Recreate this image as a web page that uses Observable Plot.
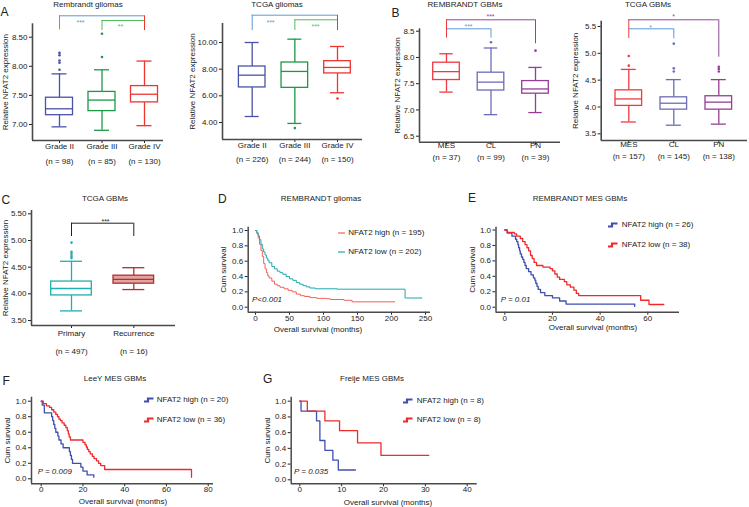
<!DOCTYPE html>
<html><head><meta charset="utf-8">
<script src="https://cdn.jsdelivr.net/npm/d3@7"></script>
<script src="https://cdn.jsdelivr.net/npm/@observablehq/plot@0.6"></script>
<style>
body{margin:0;background:#fff;}
#fig{position:relative;width:749px;height:507px;overflow:hidden;font-family:"Liberation Sans",Arial,sans-serif;color:#222;background:#fff;}
.lbl{position:absolute;white-space:nowrap;line-height:1;}
.pl{position:absolute;}
</style></head><body><div id="fig"></div>
<script>
// ================= DATA =================
// box summaries are [lower whisker, Q1, median, Q3, upper whisker]
// A – Rembrandt gliomas
const remGliomaCats = ["Grade II", "Grade III", "Grade IV"];
const remGliomaN = [98, 85, 130];
const remGliomaBox = [[6.96,7.16,7.27,7.46,7.87],[6.90,7.23,7.42,7.56,7.94],[6.98,7.38,7.52,7.66,8.09]];
const remGliomaOut = [[7.94,8.06,8.10,8.19,8.23],[8.16,8.56],[]];
const remGliomaSig = [["Grade II","Grade IV","***"],["Grade III","Grade IV","**"]];
const remGliomaTicks = [7.0, 7.5, 8.0, 8.5];

// A – TCGA gliomas
const tcgaGliomaCats = ["Grade II", "Grade III", "Grade IV"];
const tcgaGliomaN = [226, 244, 150];
const tcgaGliomaBox = [[4.45,6.63,7.55,8.20,10.00],[3.93,6.60,7.83,8.50,10.25],[6.23,7.68,8.13,8.60,9.70]];
const tcgaGliomaOut = [[],[3.58],[5.80]];
const tcgaGliomaSig = [["Grade II","Grade IV","***"],["Grade III","Grade IV","***"]];
const tcgaGliomaTicks = [4, 6, 8, 10];

// B – REMBRANDT GBMs
const remGbmCats = ["MES", "CL", "PN"];
const remGbmN = [37, 99, 39];
const remGbmBox = [[7.34,7.57,7.73,7.90,8.07],[6.91,7.37,7.53,7.71,8.18],[6.95,7.31,7.40,7.55,7.81]];
const remGbmOut = [[],[8.29],[8.13]];
const remGbmSig = [["MES","PN","***"],["MES","CL","***"]];
const remGbmTicks = [6.5, 7.0, 7.5, 8.0, 8.5];

// B – TCGA GBMs
const tcgaGbmCats = ["MES", "CL", "PN"];
const tcgaGbmN = [157, 145, 138];
const tcgaGbmBox = [[3.72,4.02,4.15,4.31,4.70],[3.66,3.95,4.07,4.18,4.51],[3.68,3.95,4.09,4.20,4.51]];
const tcgaGbmOut = [[4.77,4.95],[4.66,4.72,5.18],[4.66,4.71,4.75]];
const tcgaGbmSig = [["MES","PN","*"],["MES","CL","*"]];
const tcgaGbmTicks = [3.5, 4.0, 4.5, 5.0, 5.5];

// C – TCGA GBMs primary vs recurrence
const recCats = ["Primary", "Recurrence"];
const recN = [497, 16];
const recBox = [[3.68,3.97,4.10,4.23,4.61],[4.08,4.19,4.27,4.34,4.49]];
const recOut = [[4.67,4.71,4.75,4.79,4.96],[]];
const recSig = [["Primary","Recurrence","***"]];
const recTicks = [3.5, 4.0, 4.5, 5.0, 5.5];

// Kaplan–Meier curves: [month, cumulative survival]
const survTicks = [0, 0.2, 0.4, 0.6, 0.8, 1.0];
// D – REMBRANDT gliomas
const remGliomaKmTicks = [0, 50, 100, 150, 200, 250];
const remGliomaGroups = ["NFAT2 high (n = 195)", "NFAT2 low (n = 202)"];
const remGliomaHigh = [[0,1],[2,0.96],[4,0.9],[6,0.82],[8,0.74],[10,0.66],[12,0.57],[14,0.5],[16,0.45],[18,0.41],[20,0.38],[24,0.34],[28,0.3],[32,0.28],[36,0.26],[42,0.24],[48,0.22],[54,0.2],[60,0.17],[66,0.15],[72,0.14],[80,0.125],[90,0.115],[105,0.11],[110,0.1],[130,0.09],[142,0.07],[205,0.07]];
const remGliomaLow = [[0,1],[2,0.97],[4,0.93],[6,0.88],[8,0.82],[10,0.76],[12,0.72],[14,0.68],[16,0.64],[18,0.61],[20,0.58],[24,0.53],[28,0.5],[32,0.47],[36,0.45],[40,0.43],[45,0.4],[50,0.37],[55,0.35],[60,0.32],[65,0.3],[70,0.28],[75,0.265],[80,0.25],[88,0.24],[120,0.235],[220,0.12],[245,0.12]];
const remGliomaP = "P<0.001";
// E – REMBRANDT MES GBMs
const remMesKmTicks = [0, 20, 40, 60];
const remMesGroups = ["NFAT2 high (n = 26)", "NFAT2 low (n = 38)"];
const remMesHigh = [[0,1],[1,0.96],[3,0.92],[4.5,0.88],[5,0.85],[5.5,0.81],[5.8,0.77],[6.2,0.73],[6.5,0.69],[7,0.65],[7.5,0.62],[8,0.58],[8.5,0.54],[9,0.5],[10,0.46],[11,0.42],[12,0.38],[12.6,0.35],[13,0.31],[13.5,0.27],[14,0.23],[15,0.19],[16.8,0.15],[20,0.12],[23,0.08],[25.7,0.04],[54.5,0.01]];
const remMesLow = [[0,1],[1,0.97],[4,0.95],[5,0.92],[6.5,0.89],[7.5,0.85],[8.5,0.81],[9.3,0.77],[10,0.73],[10.8,0.67],[11.5,0.63],[12.3,0.58],[13.3,0.54],[16,0.52],[19,0.5],[20,0.47],[21,0.43],[22,0.39],[23,0.36],[25,0.33],[26,0.29],[27.5,0.26],[29,0.22],[30,0.18],[31,0.15],[57,0.09],[60.5,0.035],[66.7,0.035]];
const remMesP = "P = 0.01";
// F – LeeY MES GBMs
const leeKmTicks = [0, 20, 40, 60, 80];
const leeGroups = ["NFAT2 high (n = 20)", "NFAT2 low (n = 36)"];
const leeHigh = [[0,1],[0.5,0.95],[1.5,0.85],[5,0.8],[5.5,0.75],[6,0.7],[6.5,0.65],[7,0.6],[8,0.55],[8.5,0.5],[9.5,0.45],[10.5,0.4],[13.5,0.35],[14,0.3],[14.5,0.25],[15,0.2],[19,0.15],[20,0.1],[22,0.05],[25.2,0.02]];
const leeLow = [[0,1],[1,0.97],[2.5,0.94],[4,0.92],[5,0.89],[6,0.86],[7,0.83],[7.8,0.8],[8.5,0.77],[9.2,0.75],[10,0.72],[11,0.69],[11.8,0.66],[12.5,0.62],[13,0.58],[13.4,0.54],[14,0.5],[20,0.47],[21,0.44],[21.6,0.41],[22.1,0.38],[22.8,0.35],[23.5,0.32],[24.5,0.29],[25.3,0.26],[26.5,0.23],[27.5,0.2],[28.5,0.17],[30.4,0.12],[72,0.02]];
const leeP = "P = 0.009";
// G – Freije MES GBMs
const freijeKmTicks = [0, 10, 20, 30, 40];
const freijeGroups = ["NFAT2 high (n = 8)", "NFAT2 low (n = 8)"];
const freijeHigh = [[0,1],[0.3,0.875],[4,0.75],[4.8,0.5],[6,0.375],[7.9,0.25],[9.2,0.125],[13.3,0.125]];
const freijeLow = [[0,1],[1.8,0.875],[6,0.75],[9.5,0.625],[13.8,0.47],[19.4,0.31],[30.8,0.31]];
const freijeP = "P = 0.035";

// ================= DRAWING =================
const fig = document.getElementById("fig");
const FONT = "Liberation Sans, Arial, sans-serif";
const AXIS = "#4a4a4a";
function label(txt, x, y, o = {}) {
  const d = document.createElement("div");
  d.className = "lbl";
  d.textContent = txt;
  d.style.left = x + "px"; d.style.top = y + "px";
  d.style.fontSize = (o.size || 8) + "px";
  if (o.italic) d.style.fontStyle = "italic";
  d.style.transform = `translate(${o.anchor === "start" ? "0" : "-50%"}, -50%)`;
  fig.appendChild(d);
}
function place(svg, L, T) {
  const w = document.createElement("div");
  w.className = "pl"; w.style.left = L + "px"; w.style.top = T + "px";
  w.appendChild(svg); fig.appendChild(w);
}
function lin(v1, p1, v2, p2) { return p => v1 + (p - p1) * (v2 - v1) / (p2 - p1); }
const style = {background: "transparent", overflow: "visible", fontFamily: FONT, fontSize: "8px", color: "#222", maxWidth: "none"};

function boxPanel(c) {
  const [L, T, W, H] = c.svg, [fl, fr, ft, fb] = c.frame;
  const unit = (c.pos[c.pos.length - 1] - c.pos[0]) / (c.pos.length - 1);
  const pxToX = p => (p - c.pos[0]) / unit;
  const pxToY = lin(...c.yMap);
  const xd = [pxToX(fl), pxToX(fr)], yd = [pxToY(fb), pxToY(ft)];
  const hw = c.boxPx / unit, cw = c.capPx / unit, sw = 1.3;
  const stats = c.cats.map((k, i) => ({i, lo: c.box[i][0], q1: c.box[i][1], med: c.box[i][2], q3: c.box[i][3], hi: c.box[i][4],
    color: c.colors[i], fill: (c.fills && c.fills[i]) || "white", lab: k, nl: `(n = ${c.n[i]})`}));
  const outs = c.out.flatMap((arr, i) => arr.map(v => ({i, v, color: c.colors[i]})));
  const anchorIdx = c.anchor == null ? null : c.cats.indexOf(c.anchor);
  const br = c.sig.map(([a, b, s], k) => {
    const ia = c.cats.indexOf(a), ib = c.cats.indexOf(b), lay = c.brackets[k];
    return {x1: ia, x2: ib, y: pxToY(lay.level), other: anchorIdx === ia ? ib : ia, end: pxToY(lay.end),
      sx: pxToX(lay.sx), sy: pxToY(lay.sy), s, color: lay.color};
  });
  const legs = br.flatMap(d => anchorIdx == null
    ? [{x: d.x1, y1: d.y, y2: d.end, color: d.color}, {x: d.x2, y1: d.y, y2: d.end, color: d.color}]
    : [{x: d.other, y1: d.y, y2: d.end, color: d.color}]);
  if (anchorIdx != null) legs.push({x: anchorIdx, y1: pxToY(Math.min(...c.brackets.map(b => b.level))), y2: pxToY(c.anchorEnd), color: c.colors[anchorIdx]});
  const svg = Plot.plot({
    width: W, height: H, marginLeft: fl - L, marginRight: L + W - fr, marginTop: ft - T, marginBottom: T + H - fb,
    style,
    color: {type: "identity"},
    x: {domain: xd, ticks: c.cats.map((k, i) => i), tickFormat: () => "", tickSize: 3, label: null},
    y: {domain: yd, ticks: c.ticks, tickFormat: c.fmt, tickSize: 3, tickPadding: 2, label: null},
    marks: [
      Plot.ruleX(stats, {x: "i", y1: "lo", y2: "q1", stroke: "color", strokeWidth: sw}),
      Plot.ruleX(stats, {x: "i", y1: "q3", y2: "hi", stroke: "color", strokeWidth: sw}),
      Plot.ruleY(stats, {y: "lo", x1: d => d.i - cw, x2: d => d.i + cw, stroke: "color", strokeWidth: sw}),
      Plot.ruleY(stats, {y: "hi", x1: d => d.i - cw, x2: d => d.i + cw, stroke: "color", strokeWidth: sw}),
      Plot.rect(stats, {x1: d => d.i - hw, x2: d => d.i + hw, y1: "q1", y2: "q3", fill: "fill", stroke: "color", strokeWidth: sw}),
      Plot.ruleY(stats, {y: "med", x1: d => d.i - hw, x2: d => d.i + hw, stroke: "color", strokeWidth: sw}),
      Plot.dot(outs, {x: "i", y: "v", r: 1.3, fill: "color", stroke: null}),
      Plot.ruleX([xd[0]], {stroke: AXIS, strokeWidth: 1.6}),
      Plot.ruleY([yd[0]], {stroke: AXIS, strokeWidth: 1.6}),
      Plot.text(stats, {x: "i", text: "lab", frameAnchor: "bottom", dy: c.labY - fb, fontSize: 8, fill: "#222"}),
      Plot.text(stats, {x: "i", text: "nl", frameAnchor: "bottom", dy: c.nY - fb, fontSize: 8, fill: "#222"}),
      Plot.text(["Relative NFAT2 expression"], {text: d => d, frameAnchor: "left", textAnchor: "middle", dx: c.yLabDx, rotate: -90, fontSize: 8, fill: "#222"}),
      Plot.ruleY(br, {y: "y", x1: "x1", x2: "x2", stroke: "color", strokeWidth: 1}),
      Plot.ruleX(legs, {x: "x", y1: "y1", y2: "y2", stroke: "color", strokeWidth: 1}),
      Plot.text(br, {x: "sx", y: "sy", text: "s", fill: "color", fontSize: 7, dy: 2})
    ]
  });
  place(svg, L, T);
}

function kmPanel(c) {
  const [L, T, W, H] = c.svg, [fl, fr, ft, fb] = c.frame;
  const pxToX = lin(...c.xMap), pxToY = lin(...c.yMap);
  const xd = [pxToX(fl), pxToX(fr)], yd = [pxToY(fb), pxToY(ft)];
  const svg = Plot.plot({
    width: W, height: H, marginLeft: fl - L, marginRight: L + W - fr, marginTop: ft - T, marginBottom: T + H - fb,
    style,
    x: {domain: xd, ticks: c.xTicks, tickSize: 3, tickPadding: 0, label: null},
    y: {domain: yd, ticks: survTicks, tickFormat: ".1f", tickSize: 3, tickPadding: 2, label: null},
    marks: [
      ...c.curves.map(k => Plot.line(k.pts, {x: d => d[0], y: d => d[1], curve: "step-after", stroke: k.color, strokeWidth: c.sw})),
      Plot.ruleX([xd[0]], {stroke: AXIS, strokeWidth: 1.5}),
      Plot.ruleY([yd[0]], {stroke: AXIS, strokeWidth: 1.5}),
      Plot.text(["Cum survival"], {text: d => d, frameAnchor: "left", textAnchor: "middle", dx: c.yLabDx, rotate: -90, fontSize: 8, fill: "#222"})
    ]
  });
  place(svg, L, T);
  c.curves.forEach((k, i) => legend(c.leg[0], c.leg[1] + i * c.leg[3], k.color, c.groups[i], c.legType, c.leg[2]));
}

function legend(x, y, color, text, type, textX) {
  const ns = "http://www.w3.org/2000/svg";
  const s = document.createElementNS(ns, "svg");
  s.setAttribute("width", 12); s.setAttribute("height", 8);
  s.style.position = "absolute"; s.style.left = x + "px"; s.style.top = (y - 4) + "px"; s.style.overflow = "visible";
  const p = document.createElementNS(ns, "path");
  p.setAttribute("d", type === "line" ? "M0,4H7" : "M0,5.5H4V2.5H9.5");
  p.setAttribute("stroke", color); p.setAttribute("fill", "none");
  p.setAttribute("stroke-width", type === "line" ? 1.2 : 2.2);
  s.appendChild(p); fig.appendChild(s);
  label(text, textX, y, {anchor: "start"});
}

const BLUE_BR = "#5b9bd5", GREEN_BR = "#52bd5e", PURPLE_BR = "#8c4b98";
const gradeColors = ["#4b53a6", "#1c9946", "#ee3530"];
const subColors = ["#ee3a40", "#6c6cb8", "#963e94"];

boxPanel({svg: [0, 0, 175, 170], frame: [32, 163, 23.3, 140], pos: [59, 102, 144], yMap: [8.5, 36.7, 7.0, 124],
  cats: remGliomaCats, n: remGliomaN, box: remGliomaBox, out: remGliomaOut, sig: remGliomaSig, ticks: remGliomaTicks, fmt: ".2f",
  colors: gradeColors, boxPx: 13.5, capPx: 7.5, labY: 148, nY: 163, yLabDx: -27, anchor: "Grade IV", anchorEnd: 30,
  brackets: [{level: 15.3, end: 29.3, sx: 80, sy: 20, color: BLUE_BR}, {level: 20, end: 30, sx: 120, sy: 24, color: GREEN_BR}]});

boxPanel({svg: [178, 0, 192, 170], frame: [222, 362, 23, 139], pos: [251.7, 293, 337], yMap: [10, 42, 4, 122],
  cats: tcgaGliomaCats, n: tcgaGliomaN, box: tcgaGliomaBox, out: tcgaGliomaOut, sig: tcgaGliomaSig, ticks: tcgaGliomaTicks, fmt: ".2f",
  colors: gradeColors, boxPx: 13.3, capPx: 7, labY: 147.7, nY: 161.5, yLabDx: -30, anchor: "Grade IV", anchorEnd: 30,
  brackets: [{level: 14.7, end: 30, sx: 270, sy: 20, color: BLUE_BR}, {level: 19.3, end: 30, sx: 315, sy: 24, color: GREEN_BR}]});

boxPanel({svg: [375, 0, 190, 170], frame: [419, 560, 28.3, 141.7], pos: [446, 490, 535], yMap: [8.5, 30.7, 6.5, 135.7],
  cats: remGbmCats, n: remGbmN, box: remGbmBox, out: remGbmOut, sig: remGbmSig, ticks: remGbmTicks, fmt: ".1f",
  colors: subColors, boxPx: 13.3, capPx: 6.7, labY: 147.7, nY: 159.3, yLabDx: -22, anchor: "MES", anchorEnd: 37.7,
  brackets: [{level: 19.3, end: 43.3, sx: 490, sy: 14, color: PURPLE_BR}, {level: 28.3, end: 37.7, sx: 468, sy: 24, color: BLUE_BR}]});

boxPanel({svg: [565, 0, 184, 170], frame: [600.7, 747, 20.7, 140], pos: [628.3, 673.3, 718.3], yMap: [5.5, 26, 3.5, 133.3],
  cats: tcgaGbmCats, n: tcgaGbmN, box: tcgaGbmBox, out: tcgaGbmOut, sig: tcgaGbmSig, ticks: tcgaGbmTicks, fmt: ".1f",
  colors: subColors, boxPx: 13.3, capPx: 7.5, labY: 146.7, nY: 158.3, yLabDx: -25.7, anchor: "MES", anchorEnd: 38,
  brackets: [{level: 19.3, end: 56.7, sx: 673, sy: 14, color: PURPLE_BR}, {level: 28.3, end: 38.3, sx: 650, sy: 25, color: BLUE_BR}]});

boxPanel({svg: [0, 200, 180, 165], frame: [31, 175, 210, 325], pos: [71, 133.3], yMap: [5.5, 213.3, 3.5, 320],
  cats: recCats, n: recN, box: recBox, out: recOut, sig: recSig, ticks: recTicks, fmt: ".2f",
  colors: ["#22aeae", "#b32e2e"], fills: ["white", "#e2a4a1"], boxPx: 20.3, capPx: 11, labY: 335, nY: 353, yLabDx: -26, anchor: null,
  brackets: [{level: 222.7, end: 236, sx: 105, sy: 219, color: "#222"}]});

const KM_BLUE = "#3f4fb0", KM_RED = "#ee2b2b";
kmPanel({svg: [200, 215, 235, 125], frame: [247.7, 430, 226.7, 311.7], xMap: [0, 255, 250, 425], yMap: [1, 230, 0, 306.7],
  xTicks: remGliomaKmTicks, curves: [{pts: remGliomaHigh, color: "#f0625d"}, {pts: remGliomaLow, color: "#1fa9ad"}], sw: 1, yLabDx: -24.7,
  groups: remGliomaGroups, legType: "line", leg: [338.3, 233.3, 348.3, 18.4]});
kmPanel({svg: [450, 215, 299, 125], frame: [495.5, 679, 226.7, 311.7], xMap: [0, 504.3, 60, 647.3], yMap: [1, 229.5, 0, 306.7],
  xTicks: remMesKmTicks, curves: [{pts: remMesHigh, color: KM_BLUE}, {pts: remMesLow, color: KM_RED}], sw: 1.3, yLabDx: -23.8,
  groups: remMesGroups, legType: "step", leg: [607.7, 225, 621.7, 20]});
kmPanel({svg: [0, 390, 250, 117], frame: [31, 213, 396.7, 483.3], xMap: [0, 40.7, 80, 207.7], yMap: [1, 400.7, 0, 478.3],
  xTicks: leeKmTicks, curves: [{pts: leeHigh, color: KM_BLUE}, {pts: leeLow, color: KM_RED}], sw: 1.3, yLabDx: -24,
  groups: leeGroups, legType: "step", leg: [144.3, 400, 156.7, 20]});
kmPanel({svg: [250, 390, 250, 117], frame: [290.7, 476.7, 396.7, 483.3], xMap: [0, 299.3, 40, 466.7], yMap: [1, 400.7, 0, 479.3],
  xTicks: freijeKmTicks, curves: [{pts: freijeHigh, color: KM_BLUE}, {pts: freijeLow, color: KM_RED}], sw: 1.3, yLabDx: -24,
  groups: freijeGroups, legType: "step", leg: [403.3, 400.7, 416.7, 19.3]});

// titles
label("Rembrandt gliomas", 88, 5);
label("TCGA gliomas", 277, 5);
label("REMBRANDT GBMs", 465, 5);
label("TCGA GBMs", 648, 5);
label("TCGA GBMs", 105, 199);
label("REMBRANDT gliomas", 321, 199);
label("REMBRANDT MES GBMs", 580, 199);
label("LeeY MES GBMs", 115, 379);
label("Freije MES GBMs", 372, 379);
// x-axis titles
label("Overall survival (months)", 318, 330);
label("Overall survival (months)", 593, 327.5);
label("Overall survival (months)", 123, 502);
label("Overall survival (months)", 388, 502.5);
// p values
label(remGliomaP, 252, 300, {anchor: "start", italic: true});
label(remMesP, 500.7, 300, {anchor: "start", italic: true});
label(leeP, 37.7, 471.7, {anchor: "start", italic: true});
label(freijeP, 294, 471.7, {anchor: "start", italic: true});
// panel letters
label("A", 0.5, 11.5, {anchor: "start", size: 12});
label("B", 391.5, 12.5, {anchor: "start", size: 12});
label("C", 1.5, 199.5, {anchor: "start", size: 12});
label("D", 218, 199, {anchor: "start", size: 12});
label("E", 468, 198, {anchor: "start", size: 12});
label("F", 2.5, 381, {anchor: "start", size: 12});
label("G", 263, 379, {anchor: "start", size: 12});
</script>
</body></html>
